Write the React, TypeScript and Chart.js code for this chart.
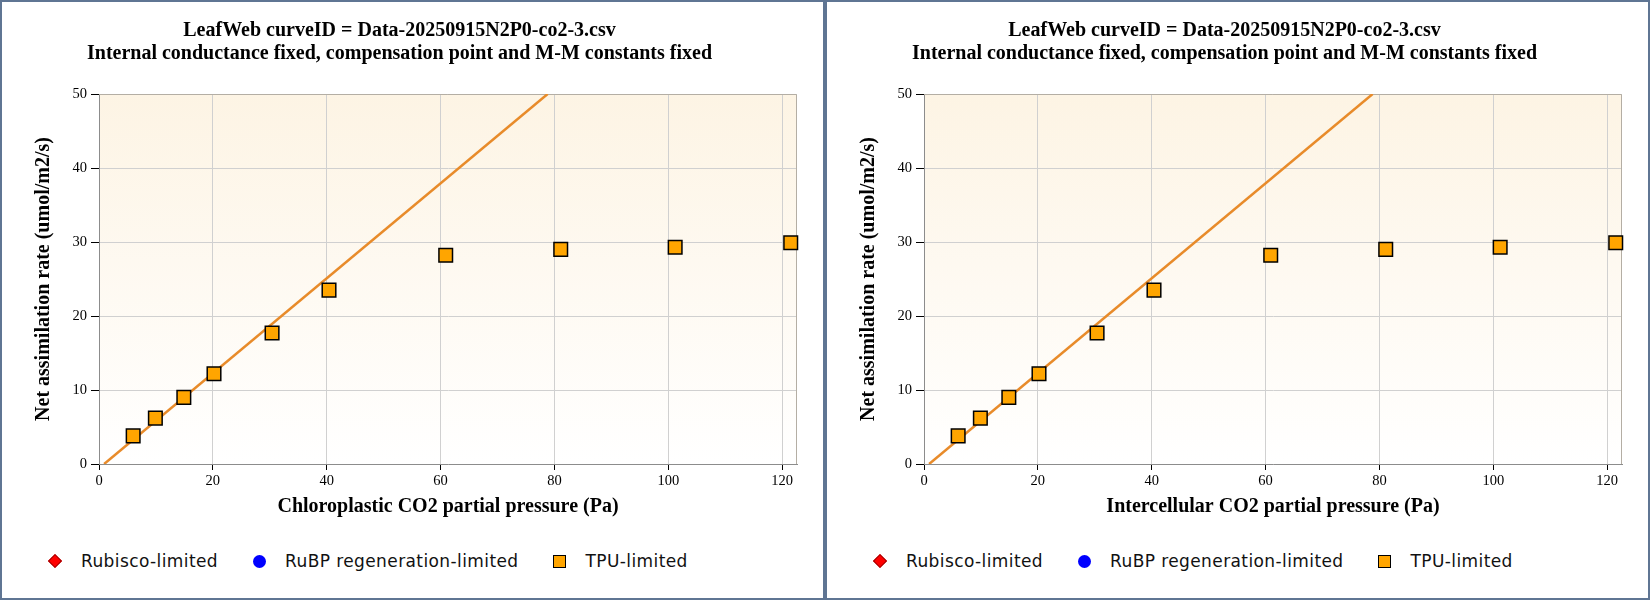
import React, { useEffect, useRef } from "react";
import { Chart, registerables } from "chart.js";

Chart.register(...registerables);

const co2Values = [6.0, 9.9, 14.9, 20.2, 30.4, 40.4, 60.9, 81.1, 101.2, 121.5];
const netAssimilation = [3.8, 6.2, 9.0, 12.2, 17.7, 23.5, 28.2, 29.0, 29.3, 29.9];

// fitted TPU-limited line end points
const fitLineX = [0.9, 78.8];
const fitLineY = [0, 50];

const titleLines = [
  "LeafWeb curveID = Data-20250915N2P0-co2-3.csv",
  "Internal conductance fixed, compensation point and M-M constants fixed",
];
const yAxisTitle = "Net assimilation rate (umol/m2/s)";
const xAxisTitles = [
  "Chloroplastic CO2 partial pressure (Pa)",
  "Intercellular CO2 partial pressure (Pa)",
];
const legendLabels = ["Rubisco-limited", "RuBP regeneration-limited", "TPU-limited"];

const X_MAX = 122.6;
const Y_MAX = 50;

const serif = "'Liberation Serif', 'Times New Roman', serif";

// cream-to-white fill of the plot area, plus its top/right frame
const plotBackground = {
  id: "plotBackground",
  beforeDraw(chart: any) {
    const { ctx, chartArea } = chart;
    if (!chartArea) return;
    const g = ctx.createLinearGradient(0, chartArea.top, 0, chartArea.bottom);
    g.addColorStop(0, "#fdf4e4");
    g.addColorStop(1, "#ffffff");
    ctx.save();
    ctx.fillStyle = g;
    ctx.fillRect(chartArea.left, chartArea.top, chartArea.right - chartArea.left, chartArea.bottom - chartArea.top);
    ctx.restore();
  },
  beforeDatasetsDraw(chart: any) {
    const { ctx, chartArea } = chart;
    ctx.save();
    ctx.strokeStyle = "#b4aea4";
    ctx.lineWidth = 1;
    ctx.beginPath();
    ctx.moveTo(chartArea.left, chartArea.top + 0.5);
    ctx.lineTo(chartArea.right - 0.5, chartArea.top + 0.5);
    ctx.lineTo(chartArea.right - 0.5, chartArea.bottom);
    ctx.stroke();
    ctx.restore();
  },
};

const AciChart = ({ xTitle }: { xTitle: string }) => {
  const canvasRef = useRef<HTMLCanvasElement>(null);
  const chartRef = useRef<Chart | null>(null);

  useEffect(() => {
    if (!canvasRef.current) return;
    if (chartRef.current) chartRef.current.destroy();

    const points = co2Values.map((x, i) => ({ x, y: netAssimilation[i] }));
    const line = fitLineX.map((x, i) => ({ x, y: fitLineY[i] }));

    chartRef.current = new Chart(canvasRef.current, {
      type: "scatter",
      data: {
        datasets: [
          {
            label: "TPU-limited",
            data: points,
            pointStyle: "rect",
            pointRadius: 9.6,
            pointBackgroundColor: "#ffa500",
            pointBorderColor: "#000000",
            pointBorderWidth: 1.5,
            clip: false,
          },
          {
            label: "fit",
            data: line,
            showLine: true,
            pointRadius: 0,
            borderColor: "#e88b2a",
            borderWidth: 2.5,
          },
        ],
      },
      options: {
        animation: false,
        responsive: true,
        maintainAspectRatio: false,
        events: [],
        layout: { padding: { top: 0, left: 0, right: 26, bottom: 13 } },
        plugins: {
          legend: { display: false },
          tooltip: { enabled: false },
          title: {
            display: true,
            text: titleLines,
            color: "#000",
            font: { family: serif, size: 20, weight: "bold", lineHeight: 1.15 },
            padding: { top: 17, bottom: 29 },
          },
        },
        scales: {
          x: {
            type: "linear",
            min: 0,
            max: X_MAX,
            afterFit: (s: any) => {
              s.height = 55;
            },
            ticks: {
              stepSize: 20,
              includeBounds: false,
              maxRotation: 0,
              padding: 2,
              color: "#000",
              font: { family: serif, size: 14.5 },
            },
            grid: { color: "#d0d0d0", tickColor: "#000", tickLength: 6 },
            border: { color: "#8c8c8c" },
            title: {
              display: true,
              text: xTitle,
              color: "#000",
              font: { family: serif, size: 20, weight: "bold" },
              padding: { top: 0, bottom: 0 },
            },
          },
          y: {
            type: "linear",
            min: 0,
            max: Y_MAX,
            afterFit: (s: any) => {
              s.width = 97;
            },
            ticks: {
              stepSize: 10,
              padding: 4,
              color: "#000",
              font: { family: serif, size: 14.5 },
            },
            grid: { color: "#d0d0d0", tickColor: "#000", tickLength: 8 },
            border: { color: "#8c8c8c" },
            title: {
              display: true,
              text: yAxisTitle,
              color: "#000",
              font: { family: serif, size: 20, weight: "bold" },
              padding: { top: 30, bottom: 0 },
            },
          },
        },
      },
      plugins: [plotBackground],
    });

    return () => {
      if (chartRef.current) {
        chartRef.current.destroy();
        chartRef.current = null;
      }
    };
  }, [xTitle]);

  return (
    <div style={{ height: "530px", position: "relative" }}>
      <canvas ref={canvasRef}></canvas>
    </div>
  );
};

const markerStyles: React.CSSProperties[] = [
  { width: 8, height: 8, background: "#ff0000", border: "1px solid #a00000", transform: "rotate(45deg)" },
  { width: 13, height: 13, background: "#0000ff", borderRadius: "50%" },
  { width: 11, height: 11, background: "#ffa500", border: "1.5px solid #000" },
];

const Legend = () => (
  <div
    style={{
      height: "58px",
      display: "flex",
      alignItems: "center",
      paddingLeft: "46.5px",
      fontFamily: "'DejaVu Sans', Verdana, sans-serif",
      fontSize: "17px",
      letterSpacing: "0.4px",
      color: "#111",
    }}
  >
    {legendLabels.map((label, i) => (
      <div key={label} style={{ display: "flex", alignItems: "center", marginRight: "34.5px" }}>
        <div style={{ width: 13, height: 13, display: "flex", alignItems: "center", justifyContent: "center", marginRight: "19.5px" }}>
          <div style={markerStyles[i]} />
        </div>
        <span>{label}</span>
      </div>
    ))}
  </div>
);

const Panel = ({ xTitle }: { xTitle: string }) => (
  <div
    style={{
      width: "825px",
      height: "600px",
      boxSizing: "border-box",
      border: "2px solid #5f7593",
      background: "#fff",
    }}
  >
    <AciChart xTitle={xTitle} />
    <Legend />
  </div>
);

export default function App() {
  useEffect(() => {
    document.body.style.margin = "0";
  }, []);

  return (
    <div style={{ display: "flex", width: "1650px", height: "600px" }}>
      {xAxisTitles.map((t) => (
        <Panel key={t} xTitle={t} />
      ))}
    </div>
  );
}
